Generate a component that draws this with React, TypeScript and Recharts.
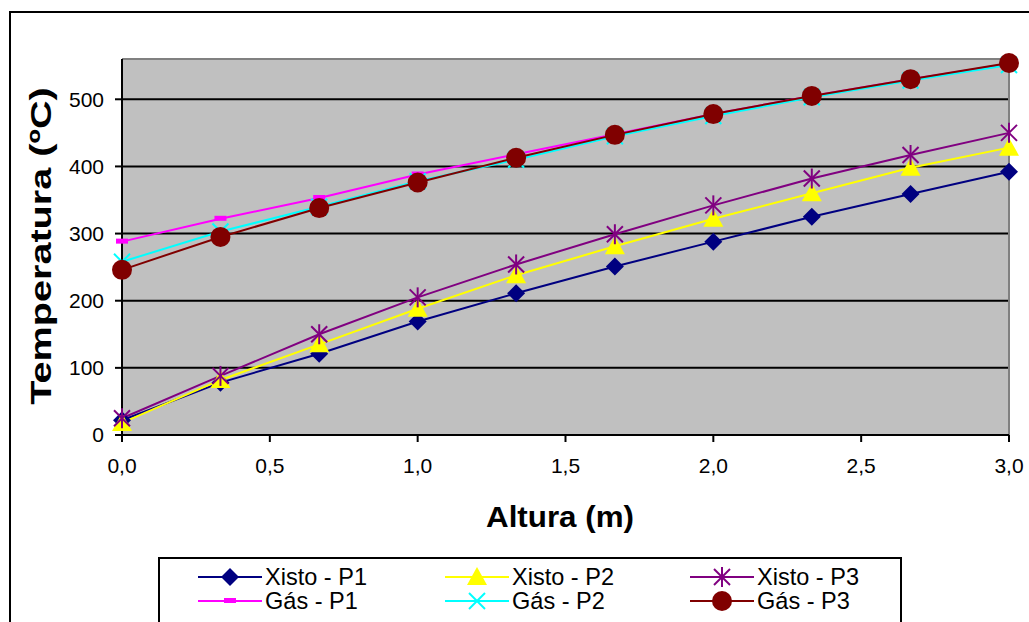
import React from "react"
import { LineChart, Line, XAxis, YAxis, CartesianGrid, ReferenceLine } from "recharts"

const alturas = [0, 0.333, 0.667, 1, 1.333, 1.667, 2, 2.333, 2.667, 3]

const xistoP1 = [22, 78, 121, 169, 211, 251, 288, 325, 359, 392]
const xistoP2 = [18, 82, 135, 188, 238, 281, 322, 360, 398, 428]
const xistoP3 = [25, 88, 150, 205, 254, 299, 342, 382, 417, 450]
const gasP1 = [288, 322, 353, 388, 418, 448, 478, 505, 530, 553]
const gasP2 = [258, 303, 340, 378, 410, 445, 475, 503, 528, 551]
const gasP3 = [246, 295, 338, 376, 413, 447, 478, 505, 530, 554]

const xTicks = [0, 0.5, 1, 1.5, 2, 2.5, 3]
const yTicks = [0, 100, 200, 300, 400, 500]

const data = alturas.map((h, i) => ({
  h,
  xp1: xistoP1[i],
  xp2: xistoP2[i],
  xp3: xistoP3[i],
  gp1: gasP1[i],
  gp2: gasP2[i],
  gp3: gasP3[i],
}))

const FONT = "'Liberation Sans', Arial, sans-serif"

type MarkerKind = "diamond" | "triangle" | "star" | "dash" | "cross" | "circle"

function Marker({ kind, cx, cy, color }: { kind: MarkerKind; cx: number; cy: number; color: string }) {
  switch (kind) {
    case "diamond":
      return <path d={`M${cx},${cy - 9} L${cx + 9},${cy} L${cx},${cy + 9} L${cx - 9},${cy} Z`} fill={color} />
    case "triangle":
      return <path d={`M${cx},${cy - 10} L${cx + 10},${cy + 8} L${cx - 10},${cy + 8} Z`} fill={color} />
    case "star":
      return (
        <g stroke={color} strokeWidth={2}>
          <line x1={cx - 8} y1={cy - 8} x2={cx + 8} y2={cy + 8} />
          <line x1={cx - 8} y1={cy + 8} x2={cx + 8} y2={cy - 8} />
          <line x1={cx} y1={cy - 10} x2={cx} y2={cy + 10} />
        </g>
      )
    case "dash":
      return <rect x={cx - 6} y={cy - 3} width={12} height={5} fill={color} />
    case "cross":
      return (
        <g stroke={color} strokeWidth={2}>
          <line x1={cx - 8} y1={cy - 8} x2={cx + 8} y2={cy + 8} />
          <line x1={cx - 8} y1={cy + 8} x2={cx + 8} y2={cy - 8} />
        </g>
      )
    default:
      return <circle cx={cx} cy={cy} r={10} fill={color} />
  }
}

const series: { key: string; name: string; color: string; marker: MarkerKind }[] = [
  { key: "xp1", name: "Xisto - P1", color: "#000080", marker: "diamond" },
  { key: "xp2", name: "Xisto - P2", color: "#FFFF00", marker: "triangle" },
  { key: "xp3", name: "Xisto - P3", color: "#800080", marker: "star" },
  { key: "gp1", name: "Gás - P1", color: "#FF00FF", marker: "dash" },
  { key: "gp2", name: "Gás - P2", color: "#00FFFF", marker: "cross" },
  { key: "gp3", name: "Gás - P3", color: "#800000", marker: "circle" },
]

const legendCols = [198, 445, 690]
const legendRows = [577, 601]

export default function App() {
  return (
    <div style={{ position: "absolute", left: 0, top: 0, width: 1029, height: 622, overflow: "hidden", background: "#fff", fontFamily: FONT }}>
      <div style={{ position: "absolute", left: 9, top: 11, width: 1100, height: 700, borderLeft: "2px solid #000", borderTop: "2px solid #000" }} />
      <LineChart width={1029} height={622} data={data} margin={{ top: 59, right: 20, bottom: 137, left: 0 }}>
        <CartesianGrid fill="#C0C0C0" vertical={false} stroke="#000" strokeWidth={2} />
        <ReferenceLine y={560} stroke="#808080" strokeWidth={2} />
        <ReferenceLine x={3} stroke="#808080" strokeWidth={2} />
        <XAxis
          dataKey="h"
          type="number"
          domain={[0, 3]}
          ticks={xTicks}
          tickFormatter={(v: number) => v.toFixed(1).replace(".", ",")}
          height={50}
          tickSize={7}
          tickMargin={16}
          axisLine={{ stroke: "#000", strokeWidth: 2 }}
          tickLine={{ stroke: "#000", strokeWidth: 2 }}
          tick={{ fill: "#000", fontSize: 21, fontFamily: FONT }}
        />
        <YAxis
          type="number"
          domain={[0, 560]}
          ticks={yTicks}
          width={122}
          tickSize={7}
          tickMargin={11}
          axisLine={{ stroke: "#000", strokeWidth: 2 }}
          tickLine={{ stroke: "#000", strokeWidth: 2 }}
          tick={{ fill: "#000", fontSize: 21, fontFamily: FONT }}
        />
        {series.map((s) => (
          <Line
            key={s.key}
            dataKey={s.key}
            name={s.name}
            stroke={s.color}
            strokeWidth={2}
            isAnimationActive={false}
            dot={(p: any) => (
              <Marker key={`${s.key}-${p.index}`} kind={s.marker} cx={p.cx} cy={p.cy} color={s.color} />
            )}
            activeDot={false}
          />
        ))}
      </LineChart>
      <div
        style={{
          position: "absolute",
          left: 41,
          top: 246,
          transform: "translate(-50%, -50%) rotate(-90deg) scaleX(1.32)",
          whiteSpace: "nowrap",
          fontWeight: "bold",
          fontSize: 30,
          lineHeight: "32px",
        }}
      >
        Temperatura (ºC)
      </div>
      <div
        style={{
          position: "absolute",
          left: 560,
          top: 517,
          transform: "translate(-50%, -50%) scaleX(1.08)",
          fontWeight: "bold",
          fontSize: 29,
          lineHeight: "32px",
          whiteSpace: "nowrap",
        }}
      >
        Altura (m)
      </div>
      <div style={{ position: "absolute", left: 158, top: 557, width: 740, height: 100, border: "2px solid #000", background: "#fff" }} />
      {series.map((s, i) => {
        const x = legendCols[i % 3]
        const y = legendRows[Math.floor(i / 3)]
        return (
          <div key={s.key} style={{ position: "absolute", left: x, top: y - 11, height: 22, display: "flex", alignItems: "center" }}>
            <svg width={64} height={22}>
              <line x1={0} y1={11} x2={64} y2={11} stroke={s.color} strokeWidth={2} />
              <Marker kind={s.marker} cx={32} cy={11} color={s.color} />
            </svg>
            <span
              style={{
                fontSize: 21,
                marginLeft: 3,
                lineHeight: "22px",
                display: "inline-block",
                transform: "scale(1.12, 1.1)",
                transformOrigin: "left center",
              }}
            >
              {s.name}
            </span>
          </div>
        )
      })}
    </div>
  )
}
